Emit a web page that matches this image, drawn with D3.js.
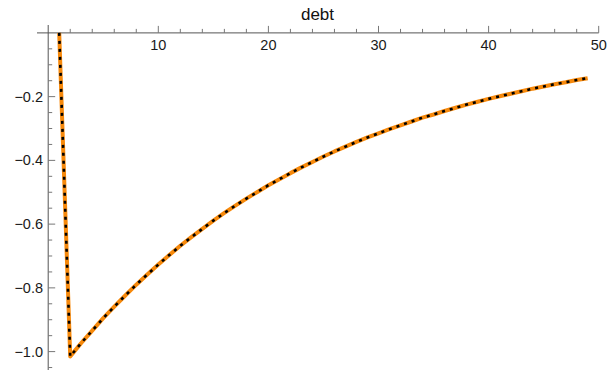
<!DOCTYPE html>
<html><head><meta charset="utf-8">
<script src="https://cdn.jsdelivr.net/npm/d3@7"></script>
<style>body{margin:0;background:#fff}text{font-family:"Liberation Sans",Arial,sans-serif}</style>
</head><body><svg id="c" width="613" height="370"></svg>
<script>
const title = "debt";
const xValues = [1,2,3,4,5,6,7,8,9,10,11,12,13,14,15,16,17,18,19,20,21,22,23,24,25,26,27,28,29,30,31,32,33,34,35,36,37,38,39,40,41,42,43,44,45,46,47,48,49];
const debt = [0,-1.015,-0.973,-0.934,-0.895,-0.859,-0.824,-0.790,-0.758,-0.727,-0.697,-0.668,-0.641,-0.615,-0.589,-0.565,-0.542,-0.520,-0.499,-0.478,-0.459,-0.440,-0.422,-0.405,-0.388,-0.372,-0.357,-0.342,-0.328,-0.315,-0.302,-0.290,-0.278,-0.266,-0.256,-0.245,-0.235,-0.225,-0.216,-0.207,-0.199,-0.191,-0.183,-0.175,-0.168,-0.161,-0.155,-0.148,-0.142];
const xTicks = [10,20,30,40,50];
const yTicks = [-0.2,-0.4,-0.6,-0.8,-1.0];

const svg = d3.select("#c");
const x = d3.scaleLinear().domain([0,50]).range([48.2,598.7]);
const y = d3.scaleLinear().domain([0,-1]).range([32.9,351.6]);
const axisCol = "#555";
const tickCol = "#777";

// axes lines
svg.append("line").attr("x1",37).attr("x2",x(50)).attr("y1",y(0)).attr("y2",y(0)).attr("stroke",axisCol).attr("stroke-width",1);
svg.append("line").attr("x1",x(0)).attr("x2",x(0)).attr("y1",25).attr("y2",370).attr("stroke",axisCol).attr("stroke-width",1);

// x ticks
const xMinor = d3.range(2,50.1,2).filter(v=>v%10!==0);
svg.selectAll(".xmin").data(xMinor).join("line").attr("x1",d=>x(d)).attr("x2",d=>x(d)).attr("y1",y(0)-4).attr("y2",y(0)).attr("stroke",tickCol);
svg.selectAll(".xmaj").data(xTicks).join("line").attr("x1",d=>x(d)).attr("x2",d=>x(d)).attr("y1",y(0)-7).attr("y2",y(0)).attr("stroke",tickCol);
svg.selectAll(".xlab").data(xTicks).join("text").attr("x",d=>x(d)).attr("y",y(0)+17).attr("text-anchor","middle").attr("font-size",14.5).attr("fill","#1a1a1a").text(d=>d);

// y ticks
const yMinor = d3.range(-0.05,-1.06,-0.05).filter(v=>Math.abs(Math.round(v*20)%4)!==0);
svg.selectAll(".ymin").data(yMinor).join("line").attr("x1",x(0)).attr("x2",x(0)+4).attr("y1",d=>y(d)).attr("y2",d=>y(d)).attr("stroke",tickCol);
svg.selectAll(".ymaj").data(yTicks).join("line").attr("x1",x(0)).attr("x2",x(0)+7).attr("y1",d=>y(d)).attr("y2",d=>y(d)).attr("stroke",tickCol);
svg.selectAll(".ylab").data(yTicks).join("text").attr("x",43).attr("y",d=>y(d)+5).attr("text-anchor","end").attr("font-size",14.5).attr("fill","#1a1a1a").text(d=>"\u2212"+Math.abs(d).toFixed(1));

// title
svg.append("text").attr("x",317.5).attr("y",20).attr("text-anchor","middle").attr("font-size",17).attr("fill","#111").text(title);

// line
const pts = xValues.map((v,i)=>[v,debt[i]]);
const line = d3.line().x(d=>x(d[0])).y(d=>y(d[1])).curve(d3.curveLinear);
svg.append("path").attr("d",line(pts)).attr("fill","none").attr("stroke","#F7890B").attr("stroke-width",4).attr("stroke-linejoin","round");
svg.append("path").attr("d",line(pts)).attr("fill","none").attr("stroke","#000").attr("stroke-width",2.6).attr("stroke-dasharray","3,5");
</script></body></html>
